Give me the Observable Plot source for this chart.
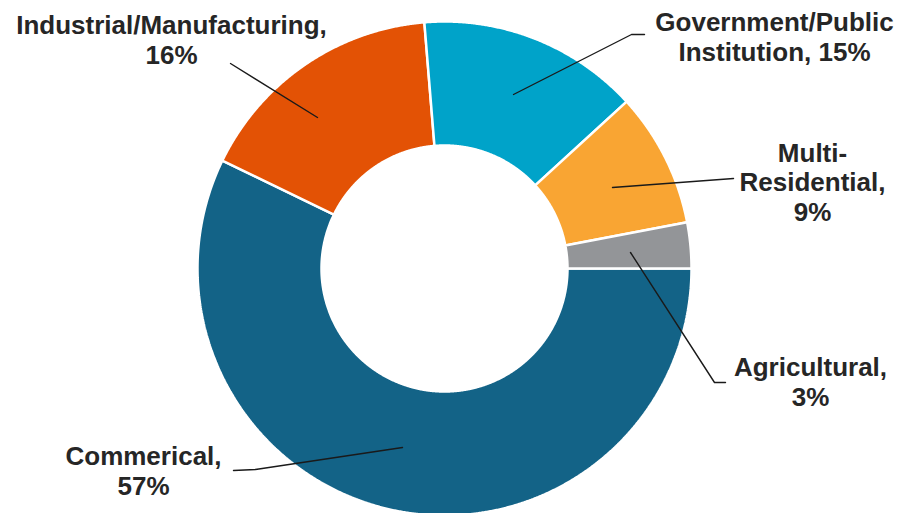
<!DOCTYPE html>
<html>
<head>
<meta charset="utf-8">
<script src="https://cdn.jsdelivr.net/npm/d3@7"></script>
<script src="https://cdn.jsdelivr.net/npm/@observablehq/plot@0.6"></script>
<style>
  html, body { margin: 0; padding: 0; background: #ffffff; }
  #chart svg { display: block; }
</style>
</head>
<body>
<div id="chart"></div>
<script>
// ---- data ----
const categories = ["Commerical", "Industrial/Manufacturing", "Government/Public Institution", "Multi-Residential", "Agricultural"];
const values = [57.2, 16.5, 14.5, 8.8, 3.0];
const labelTexts = ["Commerical,\n57%", "Industrial/Manufacturing,\n16%", "Government/Public\nInstitution, 15%", "Multi-\nResidential,\n9%", "Agricultural,\n3%"];
const colors = ["#136387", "#E35205", "#00A3C9", "#F9A533", "#939598"];

// ---- layout (annotation placement, pixels on the 900x513 canvas) ----
const W = 900, H = 513;
const CX = 444, CY = 268;          // donut centre
const R_OUT = 247, R_IN = 123;
const labelAnchor = [[143, 494], [171, 63], [774, 60], [812, 220], [810, 405]]; // centre x, last-line baseline
const leaderPaths = [
  [[233, 470], [255, 469], [402, 447]],
  [[230, 63], [317, 117]],
  [[644, 34], [631, 34], [513, 94]],
  [[733, 178], [612, 187]],
  [[725, 382], [714, 382], [630, 252]]
];

// ---- build slice polygons from the values ----
const arcs = d3.pie().sort(null).startAngle(Math.PI / 2).endAngle(Math.PI / 2 + 2 * Math.PI)(values);
const slicePts = [];
arcs.forEach((a, i) => {
  const cat = categories[i];
  const n = Math.max(8, Math.ceil((a.endAngle - a.startAngle) / (Math.PI / 720)));
  const pts = [];
  for (let k = 0; k <= n; k++) {
    const t = a.startAngle + (a.endAngle - a.startAngle) * k / n;
    pts.push({cat, x: R_OUT * Math.sin(t), y: -R_OUT * Math.cos(t)});
  }
  for (let k = n; k >= 0; k--) {
    const t = a.startAngle + (a.endAngle - a.startAngle) * k / n;
    pts.push({cat, x: R_IN * Math.sin(t), y: -R_IN * Math.cos(t)});
  }
  pts.push({...pts[0]});
  slicePts.push(...pts);
});

const leaderPts = [];
leaderPaths.forEach((p, i) => p.forEach(([px, py]) => leaderPts.push({cat: categories[i], x: px - CX, y: py - CY})));

const labelData = categories.map((c, i) => ({cat: c, text: labelTexts[i], x: labelAnchor[i][0] - CX, y: labelAnchor[i][1] - CY}));

const chart = Plot.plot({
  width: W,
  height: H,
  margin: 0,
  style: {background: "#ffffff"},
  x: {domain: [-CX, W - CX], range: [0, W], axis: null},
  y: {domain: [-CY, H - CY], range: [0, H], axis: null},
  color: {domain: categories, range: colors},
  marks: [
    Plot.line(slicePts, {x: "x", y: "y", z: "cat", fill: "cat", stroke: "#ffffff", strokeWidth: 2.5, strokeLinejoin: "miter", curve: "linear"}),
    Plot.line(leaderPts, {x: "x", y: "y", z: "cat", stroke: "#1a1a1a", strokeWidth: 1.4, curve: "linear"}),
    Plot.text(labelData, {
      x: "x", y: "y", text: "text",
      textAnchor: "middle", lineAnchor: "bottom", lineHeight: 1.13,
      fontSize: 26, fontWeight: "bold", fill: "#262626",
      fontFamily: "'Liberation Sans', Arial, sans-serif"
    })
  ]
});
document.getElementById("chart").appendChild(chart);
</script>
</body>
</html>
